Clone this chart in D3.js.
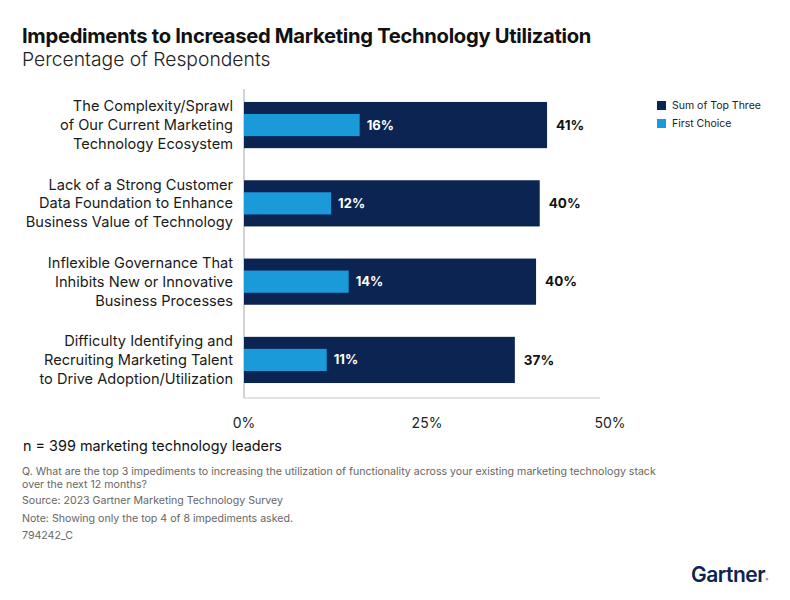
<!DOCTYPE html>
<html><head><meta charset="utf-8">
<script src="https://cdn.jsdelivr.net/npm/d3@7"></script>
<style>body{margin:0;background:#fff;}svg{display:block;font-family:Inter,Roboto,sans-serif;}</style>
</head><body><svg id="c" width="790" height="600"></svg>
<script>
const categories = [
  ["The Complexity/Sprawl","of Our Current Marketing","Technology Ecosystem"],
  ["Lack of a Strong Customer","Data Foundation to Enhance","Business Value of Technology"],
  ["Inflexible Governance That","Inhibits New or Innovative","Business Processes"],
  ["Difficulty Identifying and","Recruiting Marketing Talent","to Drive Adoption/Utilization"]
];
const sumTopThree = [41.4, 40.4, 39.9, 37.0];
const firstChoice = [15.8, 11.9, 14.3, 11.3];
const tickValues = [0, 25, 50];
const seriesNames = ["Sum of Top Three", "First Choice"];
const colors = ["#0c2452", "#1a9ad8"];

const svg = d3.select("#c");
const x = d3.scaleLinear().domain([0, 50]).range([244, 610]);
const y = d3.scaleBand().domain(d3.range(categories.length)).range([86.3, 398.7]).paddingInner(0.41).paddingOuter(0.2);
const fmt = d => d3.format(".0f")(d) + "%";

// title
svg.append("text").attr("x", 22).attr("y", 43).attr("font-size", 20.2).attr("font-weight", 700).attr("fill", "#111").attr("letter-spacing", -0.3)
  .text("Impediments to Increased Marketing Technology Utilization");
svg.append("text").attr("x", 22).attr("y", 66).attr("font-size", 19.3).attr("font-weight", 300).attr("fill", "#222")
  .text("Percentage of Respondents");

// axes lines
svg.append("line").attr("x1", x(0)).attr("x2", x(0)).attr("y1", 89).attr("y2", 398).attr("stroke", "#b5b5b5").attr("stroke-width", 1.2);
svg.append("line").attr("x1", x(0)).attr("x2", 600).attr("y1", 398).attr("y2", 398).attr("stroke", "#c8c8c8").attr("stroke-width", 1.2);

// bars
const g = svg.append("g");
g.selectAll("rect.sum").data(sumTopThree).join("rect").attr("class", "sum")
  .attr("x", x(0)).attr("y", (d, i) => y(i)).attr("width", d => x(d) - x(0)).attr("height", y.bandwidth()).attr("fill", colors[0]);
g.selectAll("rect.first").data(firstChoice).join("rect").attr("class", "first")
  .attr("x", x(0)).attr("y", (d, i) => y(i) + y.bandwidth() * 0.26).attr("width", d => x(d) - x(0)).attr("height", y.bandwidth() * 0.48).attr("fill", colors[1]);

g.selectAll("text.sl").data(sumTopThree).join("text").attr("class", "sl")
  .attr("x", d => x(d) + 9).attr("y", (d, i) => y(i) + y.bandwidth() / 2).attr("dy", "0.35em")
  .attr("font-size", 13.5).attr("font-weight", 700).attr("fill", "#111").text(fmt);
g.selectAll("text.fl").data(firstChoice).join("text").attr("class", "fl")
  .attr("x", d => x(d) + 7).attr("y", (d, i) => y(i) + y.bandwidth() / 2).attr("dy", "0.35em")
  .attr("font-size", 13).attr("font-weight", 700).attr("fill", "#fff").text(fmt);

// category labels
categories.forEach((lines, i) => {
  const cy = y(i) + y.bandwidth() / 2;
  const t = svg.append("text").attr("text-anchor", "end").attr("font-size", 14.6).attr("fill", "#1a1a1a");
  lines.forEach((ln, k) => t.append("tspan").attr("x", 233).attr("y", cy + (k - 1) * 18.8).attr("dy", "0.35em").text(ln));
});

// x ticks
svg.selectAll("text.tick").data(tickValues).join("text").attr("class", "tick")
  .attr("x", d => x(d)).attr("y", 423).attr("dy", "0.35em").attr("text-anchor", "middle")
  .attr("font-size", 14).attr("fill", "#222").text(d => d + "%");

// legend
const lg = svg.append("g");
seriesNames.forEach((n, i) => {
  lg.append("rect").attr("x", 657).attr("y", 101 + i * 18).attr("width", 9).attr("height", 9).attr("fill", colors[i]);
  lg.append("text").attr("x", 672).attr("y", 105.5 + i * 18).attr("dy", "0.35em").attr("font-size", 10.5).attr("fill", "#222").text(n);
});

// footnotes
svg.append("text").attr("x", 23).attr("y", 446).attr("dy", "0.35em").attr("font-size", 14.4).attr("fill", "#111")
  .text("n = 399 marketing technology leaders");
const notes = [
  ["Q. What are the top 3 impediments to increasing the utilization of functionality across your existing marketing technology stack", 471],
  ["over the next 12 months?", 484],
  ["Source: 2023 Gartner Marketing Technology Survey", 500],
  ["Note: Showing only the top 4 of 8 impediments asked.", 518],
  ["794242_C", 535]
];
notes.forEach(([t, yy]) => svg.append("text").attr("x", 22).attr("y", yy).attr("dy", "0.35em").attr("font-size", 10.6).attr("fill", "#666").text(t));

// logo
svg.append("text").attr("x", 765).attr("y", 575).attr("dy", "0.35em").attr("text-anchor", "end").attr("font-size", 21).attr("font-weight", 600)
  .attr("fill", "#0c2452").attr("letter-spacing", -0.5).text("Gartner");
svg.append("text").attr("x", 765.5).attr("y", 581).attr("font-size", 4).attr("fill", "#0c2452").text("®");
</script></body></html>
